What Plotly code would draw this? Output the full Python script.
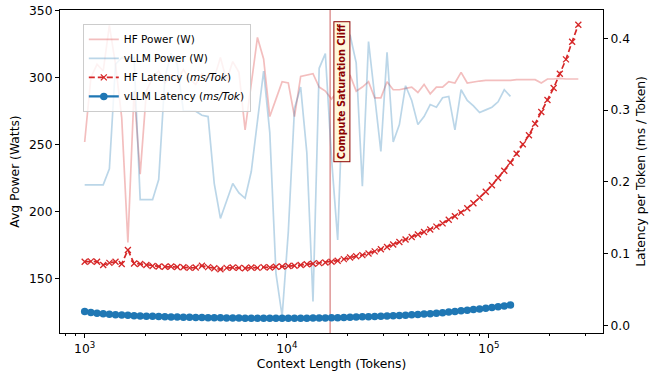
import plotly.graph_objects as go

# ---------------- data ----------------
context_tokens = [1000, 1073, 1151, 1235, 1325, 1421, 1525, 1636, 1755, 1882,
                  2020, 2167, 2324, 2494, 2675, 2870, 3079, 3303, 3544, 3802,
                  4079, 4376, 4695, 5036, 5403, 5797, 6219, 6672, 7158, 7679,
                  8238, 8838, 9482, 10174, 10915, 11710, 12563, 13478, 14459, 15512,
                  16642, 17854, 19154, 20549, 22046, 23651, 25373, 27221, 29204, 31330,
                  33612, 36060, 38686, 41503, 44525, 47768, 51246, 54978, 58982, 63277,
                  67885, 72829, 78132, 83822, 89926, 96475, 103500, 111040, 119120, 127800,
                  137100, 147090, 157800, 169290, 181620, 194840, 209030, 224250, 240580, 258100,
                  276900]

hf_power_w = [252, 300, 310, 305, 339, 310, 270, 177, 290, 228,
              290, 300, 305, 296, 302, 298, 306, 299, 295, 303,
              300, 300, 315, 298, 312, 304, 261, 295, 330, 314,
              271, 284, 297, 296, 271, 301, 302, 303, 293, 290,
              284, 290, 296, 302, 290, 293, 297, 285, 285, 297,
              291, 291, 292, 293, 289, 295, 288, 293, 293, 297,
              296, 304, 296, 297, 297.5, 298, 298, 298, 297.5, 298,
              298.5, 298.5, 298, 298.5, 296, 299, 299, 299.5, 299, 299,
              299]

vllm_power_w = [220, 220, 220, 220, 232, 310, 315, 314, 315, 209,
                209, 209, 224, 300, 318, 310, 275, 275, 275, 272,
                271, 221, 195, 208, 221, 214, 210, 230, 266, 305,
                259, 154, 122, 185, 277, 293, 244, 133, 307, 318,
                240, 179, 308, 332, 311, 219, 327, 286, 245, 319,
                252, 265, 294, 283, 265, 271, 280, 278, 285, 286,
                261, 291, 283, 279, 274, 276, 278, 282, 291, 286]

hf_latency_ms = [0.0886, 0.0890, 0.0886, 0.0840, 0.0870, 0.0885, 0.0855, 0.1050, 0.0860, 0.0855,
                 0.0840, 0.0825, 0.0820, 0.0815, 0.0818, 0.0812, 0.0808, 0.0800, 0.0805, 0.0830,
                 0.0810, 0.0795, 0.0780, 0.0800, 0.0805, 0.0800, 0.0795, 0.0805, 0.0800, 0.0810,
                 0.0805, 0.0815, 0.0820, 0.0825, 0.0830, 0.0840, 0.0850, 0.0858, 0.0866, 0.0875,
                 0.0886, 0.0900, 0.0922, 0.0945, 0.0962, 0.0978, 0.1000, 0.1030, 0.1060, 0.1090,
                 0.1125, 0.1160, 0.1195, 0.1230, 0.1265, 0.1300, 0.1335, 0.1375, 0.1420, 0.1470,
                 0.1520, 0.1570, 0.1631, 0.1700, 0.1779, 0.1862, 0.1951, 0.2053, 0.2155, 0.2266,
                 0.2392, 0.2523, 0.2648, 0.2810, 0.2973, 0.3140, 0.3307, 0.3507, 0.3707, 0.3953,
                 0.4190]

vllm_latency_ms = [0.0190, 0.0178, 0.0168, 0.0160, 0.0153, 0.0147, 0.0142, 0.0138, 0.0134, 0.0130,
                   0.0127, 0.0124, 0.0121, 0.0118, 0.0116, 0.0114, 0.0112, 0.0110, 0.0108, 0.0107,
                   0.0105, 0.0104, 0.0103, 0.0102, 0.0101, 0.0100, 0.0099, 0.0098, 0.0098, 0.0097,
                   0.0097, 0.0097, 0.0097, 0.0097, 0.0098, 0.0098, 0.0099, 0.0100, 0.0101, 0.0102,
                   0.0103, 0.0105, 0.0108, 0.0111, 0.0114, 0.0117, 0.0120, 0.0123, 0.0126, 0.0129,
                   0.0132, 0.0136, 0.0140, 0.0145, 0.0150, 0.0156, 0.0162, 0.0169, 0.0176, 0.0184,
                   0.0192, 0.0201, 0.0210, 0.0219, 0.0228, 0.0237, 0.0246, 0.0257, 0.0268, 0.0283]

vllm_tokens = context_tokens[:len(vllm_latency_ms)]

cliff_tokens = 16384
cliff_label = "Compute Saturation Cliff"

x_major_ticks = [1000, 10000, 100000]
x_major_labels = ["10<sup>3</sup>", "10<sup>4</sup>", "10<sup>5</sup>"]
x_minor_ticks = [800, 900, 2000, 3000, 4000, 5000, 6000, 7000, 8000, 9000,
                 20000, 30000, 40000, 50000, 60000, 70000, 80000, 90000,
                 200000, 300000]
power_ticks = [150, 200, 250, 300, 350]
latency_ticks = [0.0, 0.1, 0.2, 0.3, 0.4]

# ---------------- styling ----------------
FONT = "DejaVu Sans"
RED = "#d62728"
BLUE = "#1f77b4"
INK = "#000000"
FS = 12.3

fig = go.Figure()

fig.add_trace(go.Scatter(
    x=context_tokens, y=hf_power_w, name="HF Power (W)", mode="lines",
    line=dict(color="rgba(214,39,40,0.3)", width=1.7), yaxis="y"))
fig.add_trace(go.Scatter(
    x=vllm_tokens, y=vllm_power_w, name="vLLM Power (W)", mode="lines",
    line=dict(color="rgba(31,119,180,0.3)", width=1.7), yaxis="y"))
fig.add_trace(go.Scatter(
    x=context_tokens, y=hf_latency_ms, name="HF Latency (<i>ms/Tok</i>)",
    mode="lines+markers",
    line=dict(color=RED, width=1.7, dash="6px,3px"),
    marker=dict(symbol="x-thin", size=6, color=RED, line=dict(color=RED, width=1.3)),
    yaxis="y2"))
fig.add_trace(go.Scatter(
    x=vllm_tokens, y=vllm_latency_ms, name="vLLM Latency (<i>ms/Tok</i>)",
    mode="lines+markers",
    line=dict(color=BLUE, width=2.2),
    marker=dict(symbol="circle", size=7.5, color=BLUE),
    yaxis="y2"))

fig.add_shape(type="line", xref="x", yref="paper", x0=cliff_tokens, x1=cliff_tokens,
              y0=0, y1=1, line=dict(color="rgba(200,80,80,0.6)", width=1.5), layer="below")

fig.add_annotation(
    x=4.2746, xref="x", y=0.7464, yref="paper", xanchor="center", yanchor="middle",
    text="<b>" + cliff_label + "</b>",
    textangle=-90, showarrow=False,
    font=dict(family=FONT, size=9.7, color="#8b0000"),
    bgcolor="#fff8dc", bordercolor="#8b0000", borderwidth=1, borderpad=2)

axis_common = dict(showgrid=False, zeroline=False, ticks="outside", ticklen=4,
                   tickwidth=1, tickcolor=INK, linecolor=INK, linewidth=1,
                   automargin=False,
                   tickfont=dict(family=FONT, size=FS, color=INK))

fig.update_layout(
    width=654, height=374,
    margin=dict(l=60, r=51, t=10, b=41),
    paper_bgcolor="white", plot_bgcolor="white",
    font=dict(family=FONT, size=FS, color=INK),
    showlegend=True,
    legend=dict(x=0.042, y=0.957, xanchor="left", yanchor="top",
                bgcolor="rgba(255,255,255,0.8)", bordercolor="#cccccc", borderwidth=1,
                font=dict(family=FONT, size=10.5, color=INK), itemwidth=30,
                tracegroupgap=0),
    xaxis=dict(type="log", range=[2.87788, 5.56444], showline=True, mirror=True,
               tickmode="array", tickvals=x_major_ticks, ticktext=x_major_labels,
               minor=dict(tickmode="array", tickvals=x_minor_ticks, ticks="outside",
                          ticklen=2.3, tickwidth=0.8, tickcolor=INK),
               title=dict(text="Context Length (Tokens)", standoff=4,
                          font=dict(family=FONT, size=FS, color=INK)),
               **axis_common),
    yaxis=dict(range=[109.5, 350.5], showline=True, tickmode="array", tickvals=power_ticks,
               title=dict(text="Avg Power (Watts)", standoff=6,
                          font=dict(family=FONT, size=FS, color=INK)),
               **axis_common),
    yaxis2=dict(range=[-0.0108, 0.4395], overlaying="y", side="right", showline=True,
                tickmode="array", tickvals=latency_ticks, tickformat=".1f",
                title=dict(text="Latency per Token (ms / Token)", standoff=7,
                           font=dict(family=FONT, size=FS, color=INK)),
                **axis_common),
)

# remove the browser's default 8px body margin so the figure fills the window exactly
fig.write_html("out.html", config={"displayModeBar": False},
               post_script="document.body.style.margin='0';")
